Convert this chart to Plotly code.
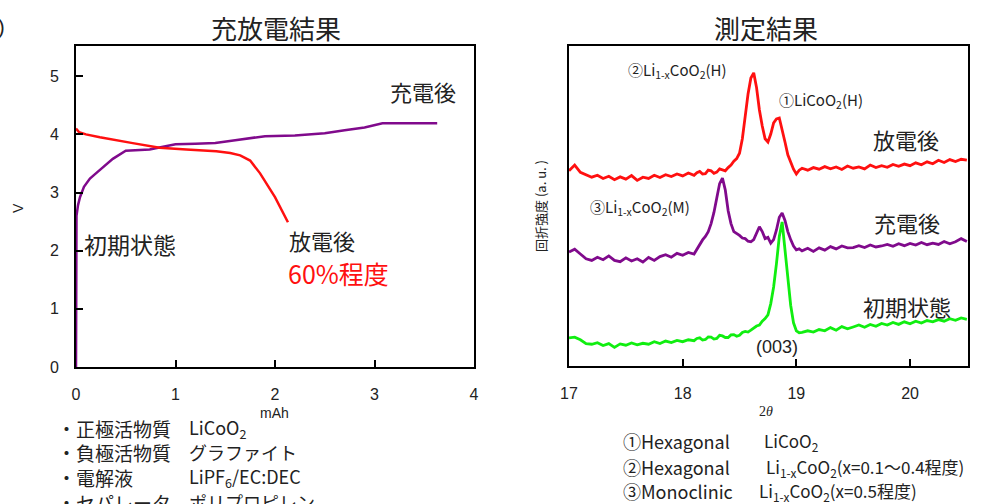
import plotly.graph_objects as go

# ---------------- data: charge / discharge (left) ----------------
charge_mAh = [0, 0.005, 0.02, 0.04, 0.08, 0.14, 0.2, 0.27, 0.37, 0.5, 0.62, 0.74, 0.85,
              1.0, 1.2, 1.4, 1.6, 1.9, 2.2, 2.5, 2.7, 2.9, 3.08, 3.63]
charge_V = [0, 2.6, 2.78, 2.92, 3.1, 3.24, 3.33, 3.43, 3.58, 3.72, 3.73, 3.74, 3.78,
            3.83, 3.84, 3.85, 3.9, 3.97, 3.98, 4.02, 4.07, 4.12, 4.19, 4.19]
discharge_mAh = [0, 0.03, 0.1, 0.24, 0.57, 0.84, 1.11, 1.41, 1.55, 1.65, 1.75, 1.85, 2.0, 2.13]
discharge_V = [4.1, 4.04, 4.0, 3.95, 3.85, 3.77, 3.74, 3.71, 3.68, 3.64, 3.55, 3.33, 2.92, 2.49]

left_xticks = [0, 1, 2, 3, 4]
left_yticks = [0, 1, 2, 3, 4, 5]

# ---------------- data: XRD (right) ----------------
two_theta_a = [17.00, 17.05, 17.10, 17.15, 17.20, 17.25, 17.30, 17.35, 17.40, 17.45, 17.50,
               17.55, 17.60, 17.65, 17.70, 17.75, 17.80, 17.85, 17.90, 17.95, 18.00, 18.05]
two_theta_b = [18.100, 18.125, 18.150, 18.175, 18.200, 18.225, 18.250, 18.275, 18.300, 18.325,
               18.350, 18.375, 18.400, 18.425, 18.450, 18.475, 18.500, 18.525, 18.550, 18.575,
               18.600, 18.625, 18.650, 18.675, 18.700, 18.725, 18.750, 18.775, 18.800, 18.825,
               18.850, 18.875, 18.900, 18.925, 18.950, 18.975, 19.000, 19.025, 19.050]
two_theta_c = [19.10, 19.15, 19.20, 19.25, 19.30, 19.35, 19.40, 19.45, 19.50, 19.55, 19.60,
               19.65, 19.70, 19.75, 19.80, 19.85, 19.90, 19.95, 20.00, 20.05, 20.10, 20.15,
               20.20, 20.25, 20.30, 20.35, 20.40, 20.45, 20.50]
two_theta = two_theta_a + two_theta_b + two_theta_c

discharged = [61.0, 62.8, 60.5, 59.8, 59.0, 59.6, 58.6, 59.3, 58.2, 59.1, 58.4,
              59.5, 58.0, 59.0, 58.6, 59.6, 58.9, 59.8, 59.2, 60.0, 59.4, 60.3,
              59.6, 60.4, 60.8, 60.0, 60.1, 61.2, 61.0, 60.2, 60.6, 61.6,
              61.3, 61.0, 62.0, 62.8, 64.0, 64.8, 66.5, 71.0, 78.0, 85.0,
              90.0, 91.6, 87.0, 80.0, 75.0, 71.0, 70.0, 72.5, 76.0, 77.2,
              77.5, 74.0, 70.0, 66.0, 63.5, 61.5, 60.0, 61.2, 61.8,
              61.2, 62.0, 61.5, 62.3, 61.6, 62.2, 61.4, 62.5, 61.8, 62.2, 61.6,
              62.8, 62.0, 62.6, 62.1, 63.0, 62.4, 63.1, 62.6, 63.5, 62.9, 63.8,
              63.2, 64.3, 63.6, 64.5, 63.9, 64.6, 64.3]
charged = [35.6, 36.5, 35.0, 33.5, 33.0, 34.0, 33.2, 34.4, 33.0, 32.6, 33.8,
           32.8, 33.5, 32.5, 33.9, 33.0, 34.2, 34.8, 34.0, 35.2, 34.6, 35.5,
           35.0, 36.5, 38.0, 39.4, 40.5, 42.0, 44.5, 48.0, 52.5, 57.0,
           58.7, 55.0, 48.5, 44.5, 42.0, 41.5, 40.8, 40.0, 39.8, 39.0,
           38.8, 39.5, 41.5, 43.5, 42.0, 39.8, 40.2, 38.4, 39.5, 42.5,
           46.5, 47.8, 45.5, 42.0, 39.5, 37.5, 36.3, 36.6, 36.0,
           36.8, 35.8, 36.9, 36.2, 37.3, 36.6, 37.5, 36.9, 37.0, 37.6, 37.0,
           37.8, 37.2, 37.5, 38.0, 37.4, 38.2, 37.6, 38.3, 37.8, 38.6, 37.9,
           38.4, 38.0, 38.9, 38.2, 38.8, 39.8, 38.9]
initial = [8.8, 9.0, 8.2, 7.0, 6.8, 7.3, 6.4, 7.0, 5.8, 6.9, 6.5,
           7.2, 6.6, 7.1, 6.8, 7.6, 7.0, 7.8, 7.3, 8.0, 7.6, 8.2,
           7.9, 8.6, 8.8, 8.1, 8.3, 9.1, 9.0, 8.4, 8.6, 9.6,
           9.4, 8.9, 8.9, 9.7, 9.8, 9.3, 9.6, 10.5, 10.8, 10.6,
           11.2, 12.0, 12.5, 12.8, 14.0, 14.8, 16.0, 19.5, 24.7, 32.0,
           40.5, 45.0, 37.0, 28.0, 19.0, 13.5, 11.0, 10.4, 10.5,
           11.0, 10.6, 11.4, 11.0, 12.0, 11.2, 12.3, 11.6, 12.2, 12.8, 12.1,
           13.0, 12.4, 13.3, 12.8, 13.6, 13.0, 13.8, 13.2, 14.0, 13.4, 14.2,
           13.8, 14.5, 14.0, 14.8, 14.3, 15.0, 14.6]
assert len(two_theta) == len(discharged) == len(charged) == len(initial), (
    len(two_theta), len(discharged), len(charged), len(initial))

right_xticks = [17, 18, 19, 20]

# ---------------- styles ----------------
JP = "Noto Sans CJK JP"
NUM = "Liberation Sans Narrow, Liberation Sans, Arial"
RED = "#ff1010"
PURPLE = "#800a8c"
GREEN = "#10ee10"
W, H = 989, 504


def px(x):
    return x / W


def py(y):
    return 1 - y / H


fig = go.Figure()
fig.add_trace(go.Scatter(x=charge_mAh, y=charge_V, mode="lines",
                         line=dict(color=PURPLE, width=2.5), xaxis="x", yaxis="y"))
fig.add_trace(go.Scatter(x=discharge_mAh, y=discharge_V, mode="lines",
                         line=dict(color=RED, width=2.5), xaxis="x", yaxis="y"))
fig.add_trace(go.Scatter(x=two_theta, y=discharged, mode="lines",
                         line=dict(color=RED, width=2.8), xaxis="x2", yaxis="y2"))
fig.add_trace(go.Scatter(x=two_theta, y=charged, mode="lines",
                         line=dict(color=PURPLE, width=2.8), xaxis="x2", yaxis="y2"))
fig.add_trace(go.Scatter(x=two_theta, y=initial, mode="lines",
                         line=dict(color=GREEN, width=2.8), xaxis="x2", yaxis="y2"))

axis_common = dict(showline=True, linecolor="black", linewidth=2, mirror=True,
                   showgrid=False, zeroline=False, automargin=False,
                   tickfont=dict(family=NUM, size=16, color="#222"))

fig.update_layout(
    width=W, height=H,
    margin=dict(l=0, r=0, t=0, b=0, autoexpand=False),
    paper_bgcolor="white", plot_bgcolor="white",
    showlegend=False,
    xaxis=dict(domain=[px(76), px(474)], range=[0, 4], tickvals=left_xticks,
               ticks="inside", ticklen=7, tickwidth=1.5, tickcolor="black",
               ticklabelstandoff=12, anchor="y", **axis_common),
    yaxis=dict(domain=[py(367), py(46)], range=[0, 5.52], tickvals=left_yticks,
               ticks="inside", ticklen=7, tickwidth=1.5, tickcolor="black",
               ticklabelstandoff=12, anchor="x", **axis_common),
    xaxis2=dict(domain=[px(569), px(968)], range=[17, 20.51], tickvals=right_xticks,
                ticks="inside", ticklen=7, tickwidth=1.5, tickcolor="black",
                ticklabelstandoff=12, anchor="y2", **axis_common),
    yaxis2=dict(domain=[py(366), py(46)], range=[0, 100], showticklabels=False,
                ticks="", anchor="x2", **axis_common),
)

ann = []


def txt(text, x, y, size, color="#222", xanchor="left", family=JP, angle=0, yanchor="middle"):
    ann.append(dict(text=text, x=px(x), y=py(y), xref="paper", yref="paper",
                    xanchor=xanchor, yanchor=yanchor, showarrow=False, textangle=angle,
                    font=dict(family=family, size=size, color=color)))


# titles
txt("充放電結果", 276, 27, 26, xanchor="center")
txt("測定結果", 766, 27, 26, xanchor="center")
txt(")", 7, 27, 20, xanchor="right", family="Liberation Sans")

# axis titles
txt("V", 18, 208, 14, xanchor="center", family="Liberation Sans", angle=-90)
txt("mAh", 274, 413, 14, xanchor="center", family=NUM)
txt("2<i>θ</i>", 766, 411, 14, xanchor="center", family="Liberation Serif")
txt("回折強度 (a. u. )", 540, 206, 13, xanchor="center", angle=-90)

# left chart labels
txt("充電後", 388, 91, 22)
txt("初期状態", 82, 244, 23)
txt("放電後", 287, 240, 22)
txt("60%程度", 286, 273, 25, color=RED)

# right chart labels
txt("放電後", 871, 139, 22)
txt("充電後", 872, 222, 22)
txt("初期状態", 861, 306, 22)
txt("(003)", 777, 347, 18, xanchor="center", family="Liberation Sans")
txt("②Li<sub>1-x</sub>CoO<sub>2</sub>(H)", 626, 71, 15)
txt("①LiCoO<sub>2</sub>(H)", 777, 101, 15)
txt("③Li<sub>1-x</sub>CoO<sub>2</sub>(M)", 588, 207, 15)

# bottom-left material list
left_rows = [("・正極活物質", "LiCoO<sub>2</sub>", 428),
             ("・負極活物質", "グラファイト", 452),
             ("・電解液", "LiPF<sub>6</sub>/EC:DEC", 477),
             ("・セパレータ", "ポリプロピレン", 502)]
for a, b, y in left_rows:
    txt(a, 55, y, 19)
    txt(b, 187, y, 18)

# bottom-right phase list
right_rows = [("①Hexagonal", "LiCoO<sub>2</sub>", 441, 762),
              ("②Hexagonal", "Li<sub>1-x</sub>CoO<sub>2</sub>(x=0.1～0.4程度)", 467, 764),
              ("③Monoclinic", "Li<sub>1-x</sub>CoO<sub>2</sub>(x=0.5程度)", 491, 757)]
for a, b, y, xb in right_rows:
    txt(a, 621, y, 18)
    txt(b, xb, y, 17)

fig.update_layout(annotations=ann)
fig.write_html("out.html", config={"displayModeBar": False},
               post_script="document.body.style.margin='0px';document.body.style.overflow='hidden';")
